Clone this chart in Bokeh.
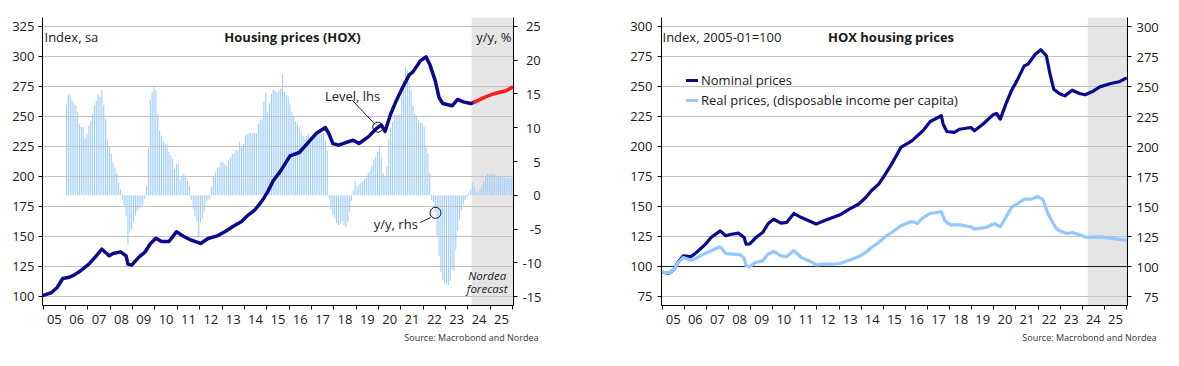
from bokeh.plotting import figure
from bokeh.models import (Range1d, LinearAxis, FixedTicker, Label, Title,
                          Legend, LegendItem, Span)
from bokeh.layouts import row
from bokeh.embed import file_html
from bokeh.resources import INLINE

FONT = "Open Sans"
NAVY = "#0a0a8c"
RED = "#ff1a1a"
BAR = "#a3cffb"
LIGHT = "#92c8ff"
GRID = "#c2c2c2"
SHADE = "#e5e5e5"
TXT = "#1a1a1a"
FIG_SP = "\u2007"   # digit-width space
PUN_SP = "\u2008"   # narrow space (≈ hyphen width)

# ---------------- data ----------------
years = list(range(2005, 2026))
year_labels = [f"{y % 100:02d}" for y in years]
left_ticks = [100, 125, 150, 175, 200, 225, 250, 275, 300, 325]
yoy_ticks = [-15, -10, -5, 0, 5, 10, 15, 20, 25]
right_ticks = [75, 100, 125, 150, 175, 200, 225, 250, 275, 300]

# HOX level, Index sa (left chart, lhs)
hox_dates = ["2005-01", "2005-05", "2005-08", "2005-11", "2006-02", "2006-05", "2006-08",
             "2007-01", "2007-05", "2007-08", "2007-12", "2008-02", "2008-06", "2008-09",
             "2008-10", "2008-12", "2009-04", "2009-07", "2009-10", "2010-01", "2010-04",
             "2010-08", "2010-12", "2011-04", "2011-08", "2012-01", "2012-05", "2012-10",
             "2013-02", "2013-07", "2013-11", "2014-02", "2014-06", "2014-10", "2015-01",
             "2015-04", "2015-08", "2016-01", "2016-06", "2016-10", "2017-03", "2017-08",
             "2017-10", "2017-12", "2018-03", "2018-07", "2018-11", "2019-02", "2019-07",
             "2019-11", "2020-02", "2020-04", "2020-07", "2020-10", "2021-01", "2021-05",
             "2021-07", "2021-11", "2022-02", "2022-04", "2022-07", "2022-09", "2022-11",
             "2023-04", "2023-07", "2023-10", "2024-02", "2024-04"]
hox_level = [101.1, 103.3, 107.5, 115.0, 115.8, 117.8, 120.8,
             127.0, 133.9, 139.4, 133.9, 135.8, 137.2, 133.9,
             127.0, 126.1, 133.0, 136.7, 144.0, 148.6, 145.8,
             145.8, 153.9, 150.0, 146.9, 144.2, 148.3, 150.5,
             153.9, 158.9, 162.5, 167.2, 171.9, 179.7, 187.2,
             196.4, 204.7, 217.2, 220.0, 227.0, 235.8, 240.8,
             235.3, 227.5, 226.1, 228.3, 230.3, 227.5, 233.0,
             239.4, 243.0, 237.5, 251.9, 263.0, 272.8, 284.7,
             287.2, 296.4, 299.7, 293.6, 279.7, 265.8, 260.8,
             258.9, 264.2, 262.2, 260.8, 262.0]
hox_fc_dates = ["2024-04", "2024-10", "2025-03", "2025-09", "2025-12"]
hox_fc_level = [262.0, 266.4, 269.2, 271.4, 274.2]

# HOX y/y %, monthly from 2006-01 (left chart, rhs)
yoy_start_year = 2006
yoy_2006 = [13.4, 14.8, 14.9, 14.0, 13.6, 13.3, 12.4, 10.5, 10.1, 10.1, 8.5, 9.1]
yoy_2007 = [10.3, 11.0, 12.0, 13.3, 14.0, 14.9, 14.6, 15.6, 13.4, 11.3, 8.3, 7.1]
yoy_2008 = [6.2, 4.9, 4.1, 3.2, 1.9, 0.9, -0.7, -1.5, -3.0, -7.3, -5.5, -5.0]
yoy_2009 = [-4.0, -3.0, -2.3, -2.0, -1.8, -1.4, -0.6, 1.4, 7.0, 14.1, 15.3, 16.2]
yoy_2010 = [15.5, 12.0, 9.6, 8.8, 8.0, 7.7, 7.5, 6.4, 5.9, 5.4, 3.9, 4.7]
yoy_2011 = [4.7, 2.2, 2.9, 3.2, 2.7, 2.2, 1.4, -0.7, -2.0, -3.1, -3.8, -6.3]
yoy_2012 = [-4.0, -3.5, -2.4, -1.0, -0.7, -0.6, 1.4, 2.7, 3.4, 4.1, 4.2, 5.0]
yoy_2013 = [4.9, 4.6, 4.4, 5.2, 5.6, 6.1, 6.2, 6.7, 6.6, 7.9, 7.3, 7.6]
yoy_2014 = [8.8, 9.0, 9.2, 9.3, 9.2, 9.3, 9.1, 10.6, 11.1, 11.3, 13.9, 15.2]
yoy_2015 = [12.4, 13.6, 15.0, 15.6, 15.5, 15.3, 15.5, 15.8, 17.9, 15.3, 14.8, 14.6]
yoy_2016 = [13.4, 12.3, 11.6, 11.0, 10.6, 10.1, 9.3, 8.8, 8.3, 8.8, 9.1, 8.7]
yoy_2017 = [8.6, 8.5, 8.8, 9.6, 9.0, 9.1, 9.1, 8.1, 6.6, -0.6, -2.0, -2.8]
yoy_2018 = [-3.4, -4.1, -4.4, -4.2, -3.8, -4.4, -4.8, -4.0, -2.5, -0.8, 0.7, 2.1]
yoy_2019 = [1.3, 1.6, 1.9, 2.1, 2.4, 2.6, 3.3, 3.6, 4.4, 5.2, 5.7, 6.4]
yoy_2020 = [7.2, 5.7, 3.3, 2.8, 4.2, 8.3, 10.0, 10.9, 11.9, 11.9, 11.9, 12.1]
yoy_2021 = [14.6, 17.0, 19.0, 18.5, 16.7, 15.5, 13.3, 12.1, 11.6, 11.1, 10.7, 10.7]
yoy_2022 = [10.1, 7.4, 6.2, 3.3, -0.7, -1.0, -2.5, -6.0, -9.0, -11.4, -12.5, -12.9]
yoy_2023 = [-13.2, -13.3, -12.7, -11.0, -11.2, -8.0, -5.3, -3.6, -2.3, -1.4, -0.7, -0.3]
yoy_2024 = [0.3, 0.9, 1.9, 1.2, 0.5, 0.4, 0.7, 1.3, 2.1, 2.7, 3.2, 3.0]
yoy_2025 = [3.2, 3.0, 3.1, 2.8, 2.9, 2.7, 2.6, 2.6, 2.6, 2.6, 2.6, 2.6]
yoy = (yoy_2006 + yoy_2007 + yoy_2008 + yoy_2009 + yoy_2010 + yoy_2011 + yoy_2012 +
       yoy_2013 + yoy_2014 + yoy_2015 + yoy_2016 + yoy_2017 + yoy_2018 + yoy_2019 +
       yoy_2020 + yoy_2021 + yoy_2022 + yoy_2023 + yoy_2024 + yoy_2025)

# Right chart: Index 2005-01=100
nom_dates = ["2005-01", "2005-04", "2005-07", "2005-09", "2005-12", "2006-04", "2006-06",
             "2006-09", "2006-12", "2007-03", "2007-08", "2007-11", "2008-02", "2008-06",
             "2008-09", "2008-10", "2008-12", "2009-04", "2009-07", "2009-10", "2010-01",
             "2010-05", "2010-08", "2010-12", "2011-04", "2011-09", "2011-12", "2012-05",
             "2012-09", "2013-01", "2013-06", "2013-11", "2014-03", "2014-06", "2014-10",
             "2015-01", "2015-05", "2015-08", "2015-10", "2016-04", "2016-10", "2017-02",
             "2017-08", "2017-09", "2017-11", "2018-03", "2018-06", "2018-12", "2019-02",
             "2019-07", "2019-12", "2020-02", "2020-04", "2020-07", "2020-10", "2021-01",
             "2021-05", "2021-07", "2021-11", "2022-02", "2022-05", "2022-07", "2022-09",
             "2022-12", "2023-03", "2023-07", "2023-11", "2024-02", "2024-06", "2024-10",
             "2025-04", "2025-09", "2025-12"]
nom_values = [95.2, 94.2, 97.8, 103.3, 108.9, 108.3, 110.3,
              114.4, 118.6, 124.2, 129.7, 125.6, 126.9, 127.8,
              124.2, 118.6, 118.8, 125.0, 128.3, 135.8, 139.4,
              136.1, 136.7, 144.2, 140.8, 137.5, 135.3, 138.6,
              140.8, 143.1, 147.8, 151.9, 157.5, 163.1, 168.6,
              175.6, 185.3, 193.6, 199.2, 204.7, 213.1, 220.8,
              225.6, 218.6, 212.5, 211.7, 214.4, 215.8, 213.1,
              219.2, 226.4, 227.5, 222.8, 235.3, 246.4, 254.7,
              267.2, 268.6, 276.9, 280.6, 275.6, 260.3, 247.8,
              244.2, 242.2, 246.9, 244.2, 243.1, 245.8, 249.7,
              252.5, 254.2, 256.7]
real_dates = ["2005-01", "2005-04", "2005-07", "2005-09", "2005-12", "2006-04", "2006-07",
              "2006-11", "2007-03", "2007-08", "2007-11", "2008-03", "2008-07", "2008-09",
              "2008-10", "2008-12", "2009-03", "2009-07", "2009-10", "2010-01", "2010-05",
              "2010-08", "2010-12", "2011-04", "2011-09", "2011-12", "2012-05", "2012-09",
              "2013-01", "2013-06", "2013-11", "2014-03", "2014-06", "2014-10", "2015-01",
              "2015-05", "2015-10", "2016-04", "2016-07", "2016-10", "2017-02", "2017-08",
              "2017-10", "2018-01", "2018-06", "2018-12", "2019-02", "2019-08", "2020-01",
              "2020-04", "2020-07", "2020-10", "2021-01", "2021-05", "2021-09", "2021-12",
              "2022-03", "2022-06", "2022-10", "2022-12", "2023-04", "2023-07", "2023-11",
              "2024-03", "2024-10", "2025-04", "2025-12"]
real_values = [95.2, 94.5, 97.8, 103.0, 107.5, 105.3, 106.9,
               110.3, 113.1, 116.4, 110.8, 110.3, 109.7, 106.9,
               100.6, 99.7, 103.3, 104.7, 110.3, 112.5, 108.9,
               108.3, 113.1, 107.5, 104.2, 101.4, 101.9, 101.9,
               102.5, 105.3, 108.1, 111.7, 115.8, 120.0, 124.2,
               128.3, 133.9, 137.5, 135.8, 140.8, 144.2, 145.6,
               138.1, 134.7, 134.7, 133.1, 131.1, 132.5, 135.8,
               133.1, 140.8, 149.2, 151.9, 156.1, 156.1, 158.3,
               156.1, 143.6, 132.5, 129.7, 127.5, 128.3, 126.4,
               124.2, 124.7, 123.6, 121.9]

left_forecast_start = "2024-03"
right_forecast_start = "2024-04"


# ---------------- helpers ----------------
def to_t(ym):
    y, m = ym.split("-")
    return int(y) + (int(m) - 0.5) / 12.0


def month_start(ym):
    y, m = ym.split("-")
    return int(y) + (int(m) - 1) / 12.0


def right_align_label(v, width):
    """Pad a tick label on the left so that left-anchored labels line up on the right."""
    s = str(v)
    neg = s.startswith("-")
    digits = len(s) - (1 if neg else 0)
    pad = FIG_SP * (width - digits)
    if not neg:
        pad += PUN_SP
    return pad + s


yoy_t = [yoy_start_year + (i + 0.5) / 12.0 for i in range(len(yoy))]
mid_ticks = [y + 0.5 for y in years]
bound_ticks = list(range(2005, 2027))


def style_y(ax, standoff=4):
    ax.axis_line_color = "black"
    ax.axis_line_width = 1
    ax.major_tick_line_color = "black"
    ax.major_tick_in = 0
    ax.major_tick_out = 4
    ax.minor_tick_line_color = None
    ax.major_label_text_font = FONT
    ax.major_label_text_font_size = "13px"
    ax.major_label_text_color = TXT
    ax.major_label_standoff = standoff


def style_x(ax):
    ax.ticker = FixedTicker(ticks=mid_ticks, minor_ticks=bound_ticks)
    ax.major_label_overrides = {t: lab for t, lab in zip(mid_ticks, year_labels)}
    ax.axis_line_color = "black"
    ax.major_tick_in = 0
    ax.major_tick_out = 0
    ax.major_tick_line_color = None
    ax.minor_tick_in = 0
    ax.minor_tick_out = 4
    ax.minor_tick_line_color = "black"
    ax.major_label_text_font = FONT
    ax.major_label_text_font_size = "13px"
    ax.major_label_text_color = TXT
    ax.major_label_standoff = 5


def make_fig(x0, x1, y0, y1, fw, mbl, mbr):
    p = figure(frame_width=fw, frame_height=288, min_border_left=mbl, min_border_right=mbr,
               min_border_top=17, min_border_bottom=55,
               x_range=Range1d(x0, x1), y_range=Range1d(y0, y1),
               output_backend="svg", toolbar_location=None,
               background_fill_color="white", border_fill_color="white",
               outline_line_color=None)
    p.xgrid.grid_line_color = None
    p.ygrid.grid_line_color = GRID
    p.ygrid.grid_line_width = 1
    return p


def txt(p, x, y, text, align="left", size="13px", style="normal", **kw):
    p.add_layout(Label(x=x, y=y, x_units="screen", y_units="screen", text=text,
                       text_align=align, text_baseline="middle", text_font=FONT,
                       text_font_size=size, text_font_style=style, text_color=TXT, **kw))


def source_title(p, shift):
    p.add_layout(Title(text="Source: Macrobond and Nordea", align="right",
                       offset=-shift, standoff=6, vertical_align="middle",
                       text_font=FONT, text_font_size="9px", text_font_style="normal",
                       text_color="#333333"), "below")


def right_axis(p, rng, ticks, standoff, width):
    ax = LinearAxis(y_range_name=rng, ticker=FixedTicker(ticks=ticks))
    style_y(ax, standoff=standoff)
    ax.major_label_overrides = {t: right_align_label(t, width) for t in ticks}
    p.add_layout(ax, "right")
    return ax


# ---------------- left chart ----------------
LY0, LY1 = 92.5, 332.5
RY0, RY1 = -16.333, 26.333
p1 = make_fig(2004.969, 2026.04, LY0, LY1, 471, 42, 67)
p1.extra_y_ranges = {"yoy": Range1d(RY0, RY1)}

p1.yaxis.ticker = FixedTicker(ticks=left_ticks)
style_y(p1.yaxis[0])
style_x(p1.xaxis[0])
p1.ygrid.ticker = FixedTicker(ticks=left_ticks)
right_axis(p1, "yoy", yoy_ticks, 5, 2)

# forecast shading
p1.quad(left=[month_start(left_forecast_start)], right=[2026.04], bottom=[LY0], top=[LY1],
        color=SHADE, line_color=None, level="image")
# y/y bars
p1.vbar(x=yoy_t, top=yoy, bottom=0, width=0.05, y_range_name="yoy",
        fill_color=BAR, line_color=None, level="image")
# level line
p1.line([to_t(d) for d in hox_dates], hox_level, line_width=3.5, color=NAVY,
        line_join="round", line_cap="round")
p1.line([to_t(d) for d in hox_fc_dates], hox_fc_level, line_width=3.5, color=RED,
        line_join="round", line_cap="round")

# annotations
p1.add_layout(Label(x=2018.84, y=266.7, text="Level, lhs", text_align="center",
                    text_baseline="middle", text_font=FONT, text_font_size="13px",
                    text_color=TXT))
p1.segment(x0=[2018.83], y0=[263.5], x1=[2019.84], y1=[243.5], line_color="#222222",
           line_width=1)
p1.scatter(x=[2019.97], y=[241.1], size=10, marker="circle", fill_color=None,
           line_color="#111111", line_width=1)
p1.add_layout(Label(x=2021.76, y=-4.2, y_range_name="yoy", text="y/y, rhs",
                    text_align="right", text_baseline="middle", text_font=FONT,
                    text_font_size="13px", text_color=TXT))
p1.segment(x0=[2021.86], y0=[-4.05], x1=[2022.34], y1=[-3.3], y_range_name="yoy",
           line_color="#222222", line_width=1)
p1.scatter(x=[2022.55], y=[-2.6], y_range_name="yoy", size=11, marker="circle",
           fill_color=None, line_color="#111111", line_width=1)

txt(p1, 2, 269, "Index, sa")
txt(p1, 250, 269, "Housing prices (HOX)", align="center", style="bold")
txt(p1, 469, 269, "y/y, %", align="right")
txt(p1, 444.7, 30, "Nordea", align="center", size="11.5px", style="italic")
txt(p1, 444.7, 17.5, "forecast", align="center", size="11.5px", style="italic")
source_title(p1, 25)

# ---------------- right chart ----------------
QY0, QY1 = 67.5, 307.5
p2 = make_fig(2004.968, 2026.045, QY0, QY1, 466, 81, 42)
p2.extra_y_ranges = {"r": Range1d(QY0, QY1)}
p2.yaxis.ticker = FixedTicker(ticks=right_ticks)
style_y(p2.yaxis[0], standoff=5)
style_x(p2.xaxis[0])
p2.ygrid.ticker = FixedTicker(ticks=[t for t in right_ticks if t != 100])
ax_r2 = LinearAxis(y_range_name="r", ticker=FixedTicker(ticks=right_ticks))
style_y(ax_r2, standoff=5)
ax_r2.major_label_overrides = {t: (FIG_SP * (3 - len(str(t)))) + str(t) for t in right_ticks}
p2.add_layout(ax_r2, "right")

p2.quad(left=[month_start(right_forecast_start)], right=[2026.045], bottom=[QY0], top=[QY1],
        color=SHADE, line_color=None, level="image")
p2.add_layout(Span(location=100, dimension="width", line_color="#222222", line_width=1,
                   level="underlay"))

r_nom = p2.line([to_t(d) for d in nom_dates], nom_values, line_width=3.2, color=NAVY,
                line_join="round", line_cap="round")
r_real = p2.line([to_t(d) for d in real_dates], real_values, line_width=3.2, color=LIGHT,
                 line_join="round", line_cap="round")

legend = Legend(items=[LegendItem(label="Nominal prices", renderers=[r_nom]),
                       LegendItem(label="Real prices, (disposable income per capita)",
                                  renderers=[r_real])],
                location=(25, 195), orientation="vertical", padding=0, margin=0,
                spacing=0, glyph_width=12, glyph_height=20, label_height=20,
                label_standoff=3, border_line_color=None, background_fill_alpha=0,
                label_text_font=FONT, label_text_font_size="13px",
                label_text_color=TXT)
p2.add_layout(legend)

txt(p2, 1, 269, "Index, 2005-01=100")
txt(p2, 229.5, 269, "HOX housing prices", align="center", style="bold")
source_title(p2, 29)

layout = row(p1, p2)
open("out.html", "w").write(file_html(layout, INLINE))
